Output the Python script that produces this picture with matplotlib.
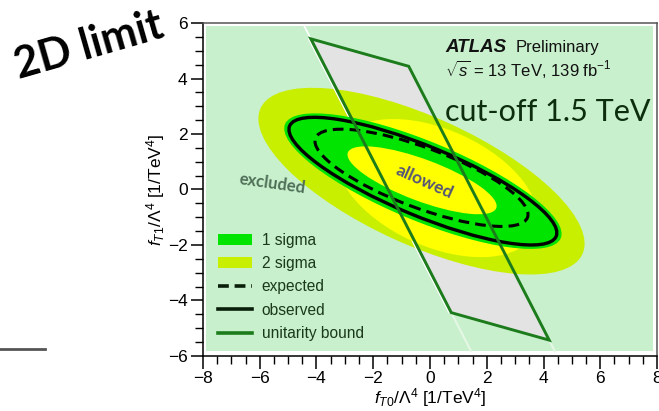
import matplotlib
matplotlib.use("Agg")
import matplotlib.pyplot as plt
import matplotlib.ticker as ticker
from matplotlib.patches import Ellipse, Polygon, Rectangle, Patch
from matplotlib.lines import Line2D

plt.rcParams['font.family'] = ['Liberation Sans', 'DejaVu Sans']
plt.rcParams['mathtext.fontset'] = 'custom'
plt.rcParams['mathtext.rm'] = 'Liberation Sans'
plt.rcParams['mathtext.it'] = 'Liberation Sans:italic'
plt.rcParams['mathtext.bf'] = 'Liberation Sans:bold'

# limit contours in the (fT0, fT1) plane: centre x, centre y, width, height, angle
sigma2_band = (-0.30, 0.30, 12.5, 4.6, -25.0)
sigma2_mid = (0.25, 0.05, 7.6, 4.2, -25.0)
sigma1_band = (-0.25, 0.30, 10.55, 2.85, -23.0)
observed = (-0.25, 0.30, 10.2, 2.5, -23.0)
expected = (-0.30, 0.42, 8.0, 2.16, -21.0)
allowed_core = (-0.28, 0.33, 5.6, 1.5, -21.0)

# unitarity bound parallelogram (cut-off 1.5 TeV)
unitarity_x = [-4.20, -0.75, 4.20, 0.75]
unitarity_y = [5.43, 4.44, -5.43, -4.44]

x_ticks = [-8, -6, -4, -2, 0, 2, 4, 6, 8]
y_ticks = [-6, -4, -2, 0, 2, 4, 6]

c_bg = '#c8f0cc'
c_1s = '#00e400'
c_2s = '#c8ee00'
c_yel = '#ffff00'
c_grey = '#e3e3e3'
c_unit = '#1c7c1c'

fig = plt.figure(figsize=(6.59, 4.11), dpi=100)
ax = fig.add_axes([0.308, 0.134, 0.689, 0.810])
ax.set_xlim(-8, 8)
ax.set_ylim(-6, 6)

# light green "excluded" background, inset from the frame
ax.add_patch(Rectangle((-7.89, -5.82), 15.75, 11.72, facecolor=c_bg,
                       edgecolor='none', zorder=0))

para = list(zip(unitarity_x, unitarity_y))
ax.add_patch(Polygon(para, closed=True, facecolor=c_grey, edgecolor='none', zorder=1))


def ell(p, color, z):
    return Ellipse((p[0], p[1]), p[2], p[3], angle=p[4], facecolor=color,
                   edgecolor='none', zorder=z)


ax.add_patch(ell(sigma2_band, c_2s, 2))
ax.add_patch(ell(sigma2_mid, c_yel, 3))
ax.add_patch(ell(sigma1_band, c_1s, 4))
ax.add_patch(ell(allowed_core, c_yel, 5))

ax.add_patch(Ellipse(expected[:2], expected[2], expected[3], angle=expected[4],
                     facecolor='none', edgecolor='black', lw=2.2,
                     linestyle=(0, (3.5, 2.0)), zorder=6))
ax.add_patch(Ellipse(observed[:2], observed[2], observed[3], angle=observed[4],
                     facecolor='none', edgecolor='black', lw=2.4, zorder=6))

# faint continuations of the bound lines beyond the corners
slope = (unitarity_x[2] - unitarity_x[1]) / (unitarity_y[2] - unitarity_y[1])
ax.plot([unitarity_x[0], unitarity_x[0] + slope * (5.9 - unitarity_y[0])],
        [unitarity_y[0], 5.9], color='white', lw=1.2, zorder=2.5)
for i in (2, 3):
    ax.plot([unitarity_x[i], unitarity_x[i] + slope * (-5.82 - unitarity_y[i])],
            [unitarity_y[i], -5.82], color='#e4f7e4', lw=1.6, zorder=2.5)
ax.plot([unitarity_x[3] - 0.08, unitarity_x[0] - 0.08],
        [unitarity_y[3], unitarity_y[0]], color='white', lw=1.0, zorder=2.5)

ax.add_patch(Polygon(para, closed=True, facecolor='none', edgecolor=c_unit,
                     lw=2.1, joinstyle='miter', zorder=7))

# text annotations
ax.text(0.53, 5.11, 'ATLAS', fontsize=13.5, fontweight='bold', style='italic',
        ha='left', va='center', color='#111111', zorder=8)
ax.text(3.0, 5.11, 'Preliminary', fontsize=12, ha='left', va='center',
        color='#111111', zorder=8)
ax.text(0.53, 4.34, r'$\sqrt{s}$ = 13 TeV, 139 fb$^{-1}$', fontsize=12,
        ha='left', va='center', color='#111111', zorder=8)
ax.text(0.53, 2.80, 'cut-off 1.5 TeV', fontsize=22, family='Lato',
        ha='left', va='center', color='#0c2e0c', zorder=8)
ax.text(-5.56, 0.20, 'excluded', fontsize=12, family='Lato', fontweight='bold',
        rotation=-8, ha='center', va='center', color='#4f7058', zorder=8)
ax.text(-0.18, 0.27, 'allowed', fontsize=12.5, family='Lato', fontweight='bold',
        rotation=-24, ha='center', va='center', color='#545478', zorder=8)

handles = [
    Patch(facecolor=c_1s, edgecolor='none', label='1 sigma'),
    Patch(facecolor=c_2s, edgecolor='none', label='2 sigma'),
    Line2D([], [], color='#0a1f0a', lw=2.6, linestyle=(0, (3.0, 1.6)), label='expected'),
    Line2D([], [], color='#0a1f0a', lw=2.6, label='observed'),
    Line2D([], [], color=c_unit, lw=2.6, label='unitarity bound'),
]
leg = ax.legend(handles=handles, loc='lower left', bbox_to_anchor=(0.032, 0.045),
                frameon=False, fontsize=11.2, handlelength=2.2, handletextpad=0.65,
                labelspacing=0.53, borderpad=0, borderaxespad=0)
for t in leg.get_texts():
    t.set_color('#1a3a1a')
leg.set_zorder(9)

ax.xaxis.set_major_locator(ticker.FixedLocator(x_ticks))
ax.yaxis.set_major_locator(ticker.FixedLocator(y_ticks))
ax.xaxis.set_minor_locator(ticker.MultipleLocator(0.5))
ax.yaxis.set_minor_locator(ticker.MultipleLocator(0.5))
ax.tick_params(which='major', direction='out', length=9, width=1.1,
               labelsize=12.5, pad=2, top=False, right=False)
ax.tick_params(which='minor', direction='out', length=5.5, width=1.0,
               top=False, right=False)
for s in ax.spines.values():
    s.set_linewidth(1.1)
ax.spines['top'].set_color('#555555')
ax.spines['right'].set_color('#555555')

ax.set_xlabel(r'$f_{T0}/\Lambda^4$ [1/TeV$^4$]', fontsize=12.5, labelpad=0)
ax.set_ylabel(r'$f_{T1}/\Lambda^4$ [1/TeV$^4$]', fontsize=12.5, labelpad=1)

fig.text(0.135, 0.89, '2D limit', fontsize=31, family='Lato', fontweight='bold',
         rotation=16, ha='center', va='center', color='black')
fig.add_artist(Line2D([0.0, 0.068], [0.151, 0.151], color='#555555', lw=2.0))

fig.savefig('out.png', dpi=100)
